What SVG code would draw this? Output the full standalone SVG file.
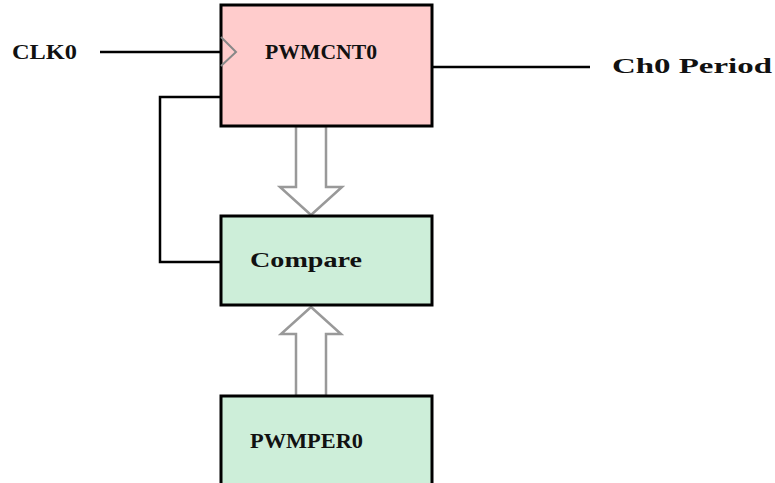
<svg xmlns="http://www.w3.org/2000/svg" width="775" height="483" viewBox="0 0 775 483">
<style>
.box{stroke:#000;stroke-width:3}
.lbl{font-family:"Liberation Serif",serif;font-weight:bold;font-size:20px;fill:#111}
.wire{fill:none;stroke:#000;stroke-width:2.5}
.hollow{fill:#fff;stroke:#999;stroke-width:2.5;stroke-linejoin:miter}
</style>
<rect width="775" height="483" fill="#fff"/>
<g id="connectors">
<line class="wire" x1="100" y1="52" x2="221" y2="52"/>
<line class="wire" x1="432" y1="67" x2="590" y2="67"/>
<polyline class="wire" points="221,97 160,97 160,262 221,262"/>
<polygon class="hollow" points="296,126 326,126 326,187 342,187 311,215 280,187 296,187"/>
<polygon class="hollow" points="296,396 326,396 326,334 341,334 311,307 281,334 296,334"/>
</g>
<g id="clk0"><text class="lbl" x="12" y="59" textLength="65" lengthAdjust="spacingAndGlyphs">CLK0</text></g>
<g id="pwmcnt0">
<rect class="box" x="221" y="5" width="211" height="121" fill="#ffcccc"/>
<polyline points="221,37 236,52 221,66" fill="none" stroke="#888" stroke-width="2"/>
<text class="lbl" x="265" y="59" textLength="112" lengthAdjust="spacingAndGlyphs">PWMCNT0</text>
</g>
<g id="ch0period"><text class="lbl" x="612" y="73" textLength="160" lengthAdjust="spacingAndGlyphs">Ch0 Period</text></g>
<g id="compare">
<rect class="box" x="221" y="216" width="211" height="89" fill="#cdeed9"/>
<text class="lbl" x="250" y="267" textLength="112" lengthAdjust="spacingAndGlyphs">Compare</text>
</g>
<g id="pwmper0">
<rect class="box" x="221" y="396" width="211" height="100" fill="#cdeed9"/>
<text class="lbl" x="250" y="448" textLength="113" lengthAdjust="spacingAndGlyphs">PWMPER0</text>
</g>
</svg>
